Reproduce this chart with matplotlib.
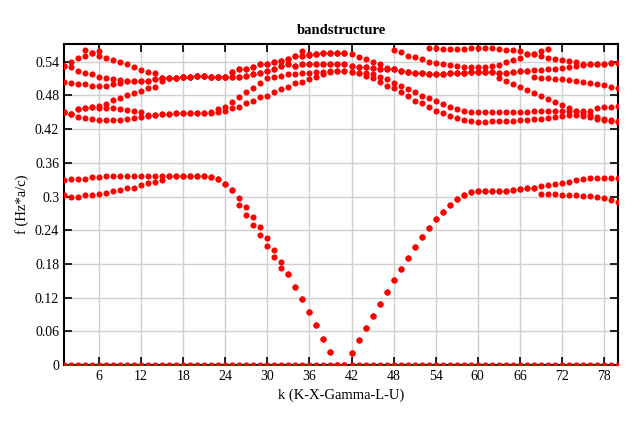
import numpy as np
import matplotlib
matplotlib.use("Agg")
import matplotlib.pyplot as plt

nan = np.nan

# k points along K-X-Gamma-L-U (4 segments of 20 points)
k = list(range(1, 81))

# zero band
band0 = [0.0, 0.0, 0.0, 0.0, 0.0, 0.0, 0.0, 0.0, 0.0, 0.0, 0.0, 0.0, 0.0, 0.0, 0.0, 0.0, 0.0, 0.0, 0.0, 0.0,
         0.0, 0.0, 0.0, 0.0, 0.0, 0.0, 0.0, 0.0, 0.0, 0.0, 0.0, 0.0, 0.0, 0.0, 0.0, 0.0, 0.0, 0.0, 0.0, 0.0,
         0.0, 0.0, 0.0, 0.0, 0.0, 0.0, 0.0, 0.0, 0.0, 0.0, 0.0, 0.0, 0.0, 0.0, 0.0, 0.0, 0.0, 0.0, 0.0, 0.0,
         0.0, 0.0, 0.0, 0.0, 0.0, 0.0, 0.0, 0.0, 0.0, 0.0, 0.0, 0.0, 0.0, 0.0, 0.0, 0.0, 0.0, 0.0, 0.0, 0.0]

# lowest pair (V shape)
band1 = [0.3027, 0.300, 0.300, 0.302, 0.302, 0.3044, 0.306, 0.309, 0.311, 0.3145, 0.316, 0.3205, 0.3233, 0.325, 0.329, 0.3365, 0.3365, 0.3365, 0.3365, 0.3365,
         0.3365, 0.3341, 0.3306, 0.3216, 0.311, 0.2843, 0.2665, 0.2487, 0.2308, 0.2113, 0.1917, 0.1721, 0.1614, 0.1383, 0.1169, 0.0938, 0.0706, 0.0457, 0.0226, 0.0,
         0.0, 0.0208, 0.0439, 0.0653, 0.0866, 0.108, 0.1294, 0.1507, 0.1703, 0.1899, 0.2095, 0.2273, 0.2433, 0.2593, 0.2718, 0.2843, 0.2949, 0.302, 0.3074, 0.3092,
         0.3092, 0.3092, 0.3092, 0.3092, 0.311, 0.3127, 0.3145, 0.3145, 0.3038, 0.3038, 0.3038, 0.302, 0.302, 0.302, 0.3003, 0.3003, 0.2985, 0.2967, 0.2932, 0.2896]
band2 = [0.329, 0.331, 0.332, 0.332, 0.334, 0.335, 0.3365, 0.3365, 0.3365, 0.3365, 0.3365, 0.3365, 0.3365, 0.3365, 0.3365, 0.3365, 0.3365, 0.3365, 0.3365, 0.3365,
         0.3365, 0.3341, 0.3306, 0.3216, 0.311, 0.2967, 0.2807, 0.2629, 0.2451, 0.2255, 0.2041, 0.1828, 0.1614, 0.1383, 0.1169, 0.0938, 0.0706, 0.0457, 0.0226, 0.0,
         0.0, 0.0208, 0.0439, 0.0653, 0.0866, 0.108, 0.1294, 0.1507, 0.1703, 0.1899, 0.2095, 0.2273, 0.2433, 0.2593, 0.2718, 0.2843, 0.2949, 0.302, 0.3074, 0.3092,
         0.3092, 0.3092, 0.3092, 0.3092, 0.311, 0.3127, 0.3145, 0.3145, 0.3181, 0.3199, 0.3216, 0.3234, 0.3252, 0.3288, 0.3306, 0.3323, 0.3323, 0.3323, 0.3323, 0.3323]

# upper group
band3 = [0.4502, 0.446, 0.4407, 0.4389, 0.4371, 0.4354, 0.4354, 0.4354, 0.436, 0.4371, 0.4389, 0.4407, 0.4425, 0.4443, 0.446, 0.446, 0.4478, 0.4478, 0.4478, 0.4478,
         0.4478, 0.4478, 0.4496, 0.4531, 0.4567, 0.4602, 0.4656, 0.4709, 0.4763, 0.4798, 0.4852, 0.4905, 0.4958, 0.5012, 0.5047, 0.5083, 0.5136, 0.5172, 0.5225, 0.5243,
         0.5243, 0.5225, 0.519, 0.5154, 0.5101, 0.5047, 0.4976, 0.4923, 0.4852, 0.4781, 0.4709, 0.4656, 0.4592, 0.4531, 0.4478, 0.4425, 0.4389, 0.4354, 0.4336, 0.4318,
         0.4318, 0.4336, 0.4336, 0.4336, 0.4336, 0.4354, 0.4354, 0.4371, 0.4371, 0.4389, 0.4407, 0.4425, 0.4443, 0.4443, 0.4425, 0.4407, 0.4371, 0.4354, 0.4336, 0.4318]
band4 = [0.4502, 0.446, 0.4549, 0.4573, 0.4585, 0.4573, 0.4573, 0.4567, 0.4555, 0.4537, 0.4531, 0.4508, 0.4455, 0.4455, 0.446, 0.446, 0.4478, 0.4478, 0.4478, 0.4478,
         0.4478, 0.4496, 0.4549, 0.4602, 0.4674, 0.4763, 0.4852, 0.4923, 0.5012, 0.5101, 0.5136, 0.5154, 0.5172, 0.5172, 0.519, 0.5207, 0.5225, 0.5225, 0.5243, 0.5243,
         0.5243, 0.5225, 0.519, 0.519, 0.5172, 0.5136, 0.5083, 0.5029, 0.4976, 0.4905, 0.4852, 0.4798, 0.4745, 0.4692, 0.4638, 0.4585, 0.4549, 0.4514, 0.4496, 0.4502,
         0.4502, 0.4502, 0.4502, 0.4502, 0.4502, 0.4502, 0.4502, 0.452, 0.452, 0.4531, 0.4531, 0.4531, 0.452, 0.4514, 0.4514, 0.4531, 0.4567, 0.4585, 0.4602, 0.462]
band5 = [0.4502, 0.446, 0.4549, 0.4573, 0.4585, 0.4615, 0.465, 0.472, 0.475, 0.480, 0.4834, 0.487, 0.4923, 0.4958, 0.5065, 0.5118, 0.5118, 0.5136, 0.5136, 0.5154,
         0.5154, 0.5136, 0.5136, 0.5136, 0.5136, 0.5136, 0.5154, 0.5172, 0.5207, 0.5243, 0.5278, 0.5332, 0.535, 0.5332, 0.535, 0.5367, 0.5367, 0.5367, 0.5367, 0.5367,
         0.5367, 0.5332, 0.531, 0.53, 0.5296, 0.5278, 0.5278, 0.5261, 0.5243, 0.5225, 0.5207, 0.5207, 0.5172, 0.5172, 0.5172, 0.519, 0.5207, 0.5207, 0.5225, 0.5214,
         0.5214, 0.5214, 0.5107, 0.5054, 0.5, 0.4947, 0.4894, 0.484, 0.4787, 0.4733, 0.468, 0.4627, 0.4573, 0.452, 0.4478, 0.4443, 0.4407, 0.4371, 0.4354, 0.4336]
band6 = [0.503, 0.5012, 0.4994, 0.4994, 0.4976, 0.4976, 0.4976, 0.4994, 0.5025, 0.5065, 0.5065, 0.5065, 0.5065, 0.5083, 0.5101, 0.5118, 0.5118, 0.5136, 0.5136, 0.5154,
         0.5154, 0.5136, 0.5136, 0.5136, 0.5136, 0.5136, 0.5154, 0.5172, 0.5207, 0.5243, 0.5278, 0.5332, 0.535, 0.5332, 0.535, 0.5367, 0.5367, 0.5367, 0.5367, 0.5367,
         0.5367, 0.5332, 0.531, 0.53, 0.5296, 0.5278, 0.5278, 0.5261, 0.5243, 0.5225, 0.5207, 0.5207, 0.5172, 0.5172, 0.5172, 0.519, 0.5207, 0.5207, 0.5225, 0.5214,
         0.5214, 0.5214, 0.5196, 0.5196, 0.5214, 0.5232, 0.5232, 0.5125, 0.5107, 0.5107, 0.5089, 0.5089, 0.5071, 0.5054, 0.5036, 0.5018, 0.5, 0.4982, 0.4955, 0.4929]
band7 = [0.532, 0.5297, 0.5243, 0.5207, 0.5172, 0.5136, 0.5101, 0.5083, 0.5075, 0.5065, 0.5065, 0.5065, 0.5065, 0.5083, 0.5101, 0.5118, 0.5118, 0.5136, 0.5136, 0.5154,
         0.5154, 0.5136, 0.5136, 0.5136, 0.5225, 0.5261, 0.5278, 0.5314, 0.535, 0.5367, 0.5403, 0.5421, 0.544, 0.5498, 0.551, 0.5516, 0.5534, 0.5552, 0.5552, 0.5552,
         0.5552, 0.5528, 0.5492, 0.5456, 0.5403, 0.535, 0.5296, 0.5261, 0.5243, 0.5225, 0.5207, 0.5207, 0.5172, 0.5172, 0.5172, 0.519, 0.5207, 0.5207, 0.5225, 0.5214,
         0.5214, 0.5214, 0.5196, 0.5196, 0.5214, 0.5232, 0.5232, 0.525, 0.5258, 0.5267, 0.5276, 0.5293, 0.5311, 0.5329, 0.5347, 0.5356, 0.5356, 0.5356, 0.5374, 0.5374]
band8 = [nan, nan, nan, 0.56, 0.5563, 0.550, 0.5472, 0.5436, 0.5388, 0.535, 0.5297, 0.526, 0.5225, 0.5207, 0.5118, 0.5118, 0.5118, 0.5136, 0.5136, 0.5154,
         0.5154, 0.5136, 0.5136, 0.5136, 0.5225, 0.5261, 0.5278, 0.5314, 0.535, 0.5367, 0.5403, 0.5421, 0.544, 0.5498, 0.551, 0.5516, 0.5534, 0.5552, 0.5552, 0.5552,
         0.5552, nan, nan, nan, nan, nan, nan, 0.5602, 0.5565, 0.551, 0.5475, 0.544, 0.5397, 0.5385, 0.5353, 0.5335, 0.5317, 0.53, 0.53, 0.53,
         0.53, 0.532, 0.5338, 0.5391, 0.5427, 0.5462, 0.5534, 0.5534, 0.5498, 0.5462, 0.5445, 0.5427, 0.5409, 0.5391, 0.5356, 0.5356, 0.5356, 0.5356, 0.5374, 0.5374]
band9 = [0.532, 0.5403, 0.5462, 0.551, 0.5563, 0.5599, nan, nan, nan, nan, nan, nan, nan, nan, nan, nan, nan, nan, nan, nan,
         nan, nan, nan, nan, nan, nan, nan, nan, nan, nan, nan, nan, nan, nan, 0.5587, 0.5545, 0.5545, 0.5552, 0.5552, 0.5552,
         0.5552, nan, nan, nan, nan, nan, nan, nan, nan, nan, nan, nan, 0.5641, 0.5641, 0.5623, 0.5623, 0.5623, 0.5623, 0.5641, 0.5641,
         0.5641, 0.5641, 0.5623, 0.5605, 0.5605, 0.5587, 0.5534, 0.5534, 0.5587, 0.5622, nan, nan, nan, nan, nan, nan, nan, nan, nan, nan]

bands = [band0, band1, band2, band3, band4, band5, band6, band7, band8, band9]

plt.rcParams['font.family'] = ['Liberation Serif', 'DejaVu Serif']

fig = plt.figure(figsize=(6.4, 4.23), dpi=100)
ax = fig.add_axes([0.1, 0.137, 0.8656, 0.759])

for b in bands:
    ax.plot(k, b, linestyle='none', marker='o', markersize=4.4,
            color='#ff0000', markeredgewidth=0, zorder=3)

ax.set_xlim(1, 80)
ax.set_ylim(0, 0.5715)
ax.set_xticks(range(6, 80, 6))
ax.set_yticks([0, 0.06, 0.12, 0.18, 0.24, 0.3, 0.36, 0.42, 0.48, 0.54])
ax.set_yticklabels(['0', '0.06', '0.12', '0.18', '0.24', '0.3', '0.36', '0.42', '0.48', '0.54'])
ax.grid(True, color='#d0d0d0', linewidth=1)
ax.set_axisbelow(True)
ax.tick_params(direction='in', top=True, right=True, length=6, width=1.2,
               labelsize=10, colors='black')
for s in ax.spines.values():
    s.set_linewidth(1.5)

ax.set_title('bandstructure', fontsize=10.5, fontweight='bold', pad=7)
ax.set_xlabel('k (K-X-Gamma-L-U)', fontsize=10.5, labelpad=4)
ax.set_ylabel('f (Hz*a/c)', fontsize=10.5, labelpad=4)

fig.savefig('out.png', dpi=100)
